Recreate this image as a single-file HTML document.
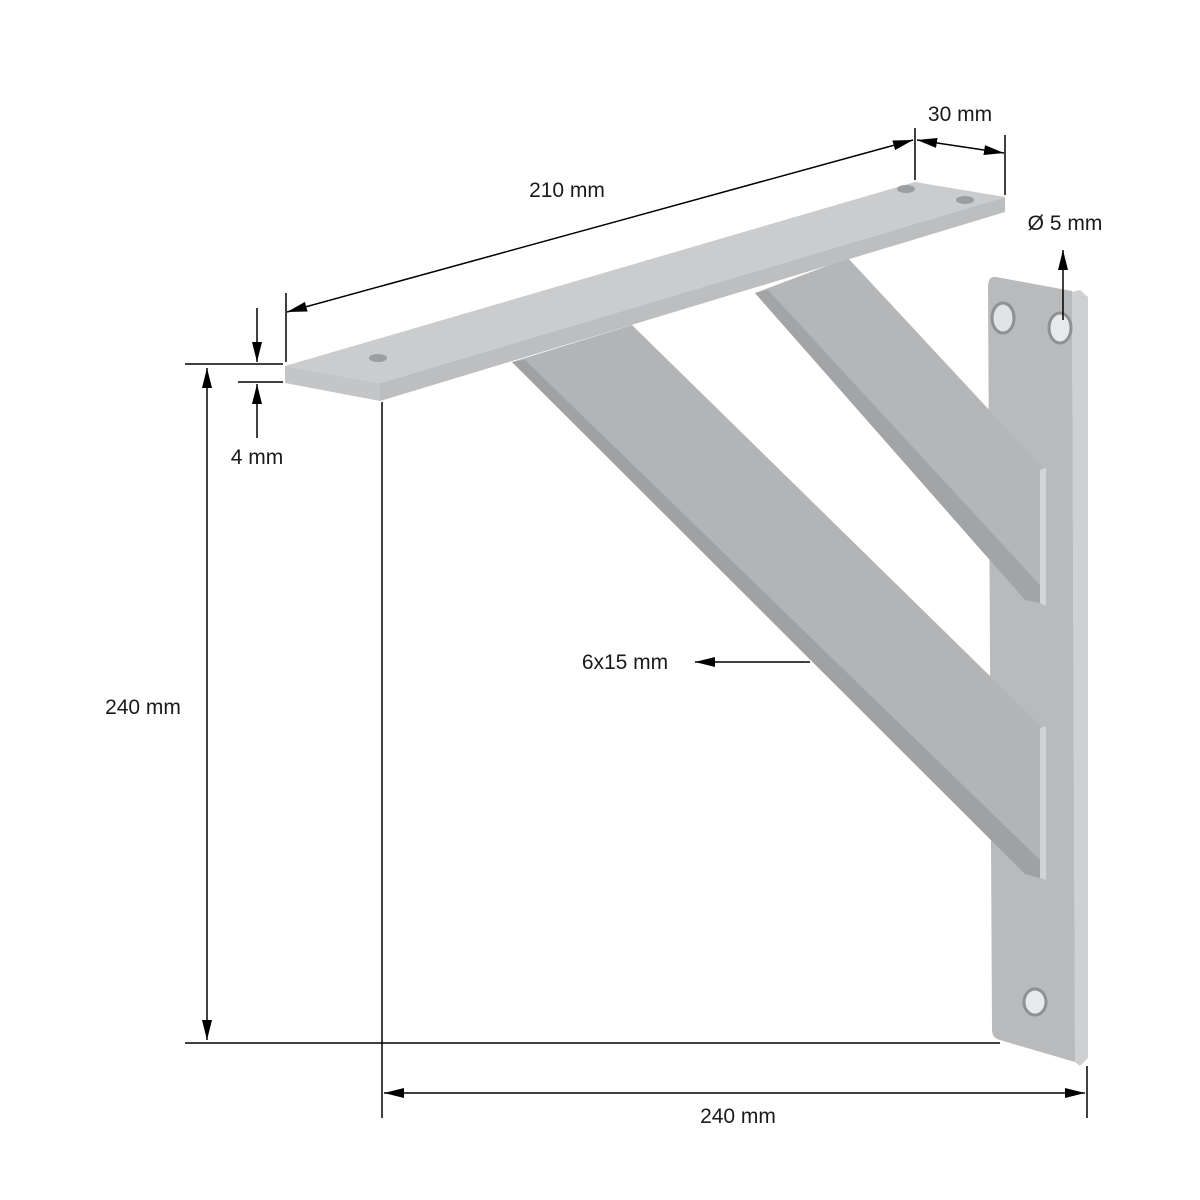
<!DOCTYPE html>
<html><head><meta charset="utf-8"><style>
html,body{margin:0;padding:0;background:#fff}
svg{display:block}
text{font-family:"Liberation Sans",sans-serif;font-size:21px;fill:#1a1a1a}
</style></head><body>
<svg width="1200" height="1200" viewBox="0 0 1200 1200" xmlns="http://www.w3.org/2000/svg">
<defs>
<marker id="b" viewBox="0 0 20 10" refX="20" refY="5" markerWidth="20" markerHeight="10" markerUnits="userSpaceOnUse" orient="auto-start-reverse"><path d="M0,0 L20,5 L0,10 z" fill="#000"/></marker>
</defs>
<!-- wall plate -->
<polygon points="1072,292 1080,290 1088,297 1088,1058 1080,1066 1075,1062" fill="#cfd0d2"/>
<path d="M996,277 L1072,291 L1075,1062 L1000,1040 Q992,1038 992,1030 L988,287 Q988,276 996,277 Z" fill="#b9babc"/>
<!-- brace 1 -->
<polygon points="755,293 848,258 1045,470 1045,605 1025,600" fill="#b5b6b8"/>
<polygon points="755,293 768,290 1040,585 1040,603 1025,600" fill="#a3a4a6"/>
<polygon points="1040,470 1046,468 1046,606 1040,603" fill="#d4d5d6"/>
<!-- brace 2 -->
<polygon points="512,362 632,325 1045,730 1045,880 1025,874" fill="#b3b4b6"/>
<polygon points="512,362 525,360 1040,860 1040,878 1025,874" fill="#a0a1a3"/>
<polygon points="1040,728 1046,726 1046,880 1040,878" fill="#d2d3d4"/>
<!-- top plate -->
<polygon points="380,383 1005,197 1005,212 380,401" fill="#bdbec0"/>
<polygon points="285,366 380,383 380,401 285,383" fill="#c4c5c7"/>
<polygon points="285,366 915,182 1005,197 380,383" fill="#cbcccd"/>
<!-- holes -->
<ellipse cx="378" cy="358" rx="9" ry="4" fill="#9c9d9f"/>
<ellipse cx="906" cy="189" rx="9" ry="4" fill="#9c9d9f"/>
<ellipse cx="965" cy="200" rx="9" ry="4" fill="#9c9d9f"/>
<ellipse cx="1003" cy="318" rx="11" ry="15" fill="#e2e3e4" stroke="#8f9092" stroke-width="3"/>
<ellipse cx="1060" cy="328" rx="11" ry="15" fill="#e8e9ea" stroke="#8f9092" stroke-width="3"/>
<ellipse cx="1035" cy="1002" rx="11" ry="13" fill="#e8e9ea" stroke="#8f9092" stroke-width="3"/>
<!-- dimension lines -->
<g stroke="#000" stroke-width="1.5" fill="none">
<line x1="287" y1="312" x2="913" y2="140" marker-start="url(#b)" marker-end="url(#b)"/>
<line x1="286" y1="293" x2="286" y2="362"/>
<line x1="915" y1="128" x2="915" y2="180"/>
<line x1="1005" y1="135" x2="1005" y2="195"/>
<line x1="917" y1="140" x2="1004" y2="153" marker-start="url(#b)" marker-end="url(#b)"/>
<line x1="1063" y1="320" x2="1063" y2="250" marker-end="url(#b)"/>
<line x1="185" y1="364" x2="283" y2="364"/>
<line x1="238" y1="382" x2="283" y2="382"/>
<line x1="257" y1="308" x2="257" y2="362" marker-end="url(#b)"/>
<line x1="257" y1="438" x2="257" y2="384" marker-end="url(#b)"/>
<line x1="207" y1="368" x2="207" y2="1040" marker-start="url(#b)" marker-end="url(#b)"/>
<line x1="185" y1="1043" x2="1000" y2="1043"/>
<line x1="382" y1="402" x2="382" y2="1118"/>
<line x1="1087" y1="1066" x2="1087" y2="1118"/>
<line x1="384" y1="1093" x2="1085" y2="1093" marker-start="url(#b)" marker-end="url(#b)"/>
<line x1="810" y1="662" x2="695" y2="662" marker-end="url(#b)"/>
</g>
<text x="567" y="197" text-anchor="middle">210 mm</text>
<text x="960" y="121" text-anchor="middle">30 mm</text>
<text x="1065" y="230" text-anchor="middle">Ø 5 mm</text>
<text x="257" y="464" text-anchor="middle">4 mm</text>
<text x="143" y="714" text-anchor="middle">240 mm</text>
<text x="625" y="669" text-anchor="middle">6x15 mm</text>
<text x="738" y="1123" text-anchor="middle">240 mm</text>
</svg>
</body></html>
